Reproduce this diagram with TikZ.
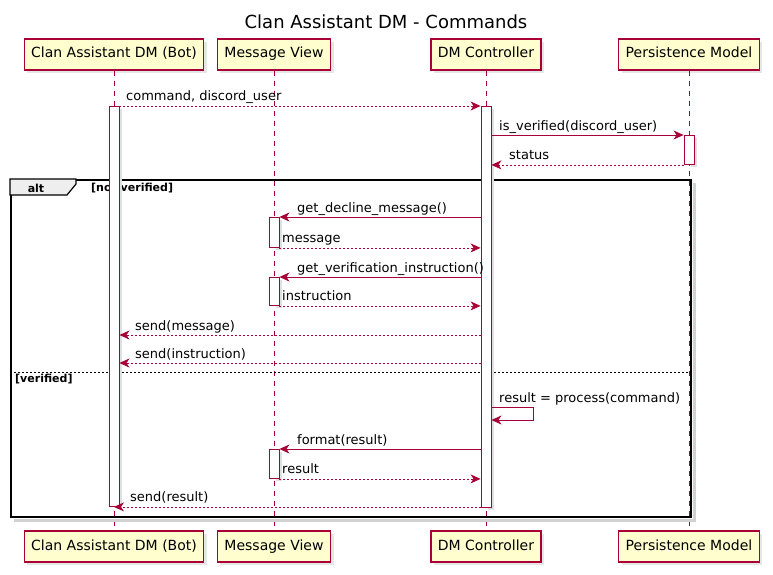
\documentclass[tikz,border=0pt]{standalone}
\usepackage{fontspec}
\setmainfont{DejaVu Sans}
\usetikzlibrary{arrows.meta,shadows}
\definecolor{umlred}{HTML}{A80036}
\definecolor{umlbox}{HTML}{FEFECE}
\definecolor{umltab}{HTML}{EEEEEE}
\begin{document}
\begin{tikzpicture}[x=1pt,y=-1pt,>={Stealth[length=10pt,width=9pt,inset=3pt]},
  part/.style={draw=umlred,fill=umlbox,line width=1.2pt,minimum height=31pt,inner xsep=7pt,
    text height=10pt,text depth=3pt,font=\fontsize{14}{16}\selectfont,
    drop shadow={shadow xshift=3pt,shadow yshift=-3pt,opacity=0.2}},
  life/.style={umlred,dash pattern=on 5pt off 5pt,line width=0.8pt},
  act/.style={draw=umlred,fill=white,line width=0.9pt,minimum width=10pt,inner sep=0pt,anchor=north},
  actshadow/.style={fill=black!12},
  call/.style={umlred,->,line width=0.8pt},
  ret/.style={call,dash pattern=on 2pt off 2pt},
  lbl/.style={anchor=base west,inner sep=0pt,font=\fontsize{13}{15}\selectfont},
  guard/.style={anchor=west,inner sep=0pt,font=\fontsize{11}{13}\selectfont\bfseries}]

  \useasboundingbox (0,0) rectangle (773,575);
  \node[font=\fontsize{18}{22}\selectfont] (title) at (386,22) {Clan Assistant DM - Commands};

  % Participants
  \foreach \name/\x/\txt in {bot/114/Clan Assistant DM (Bot), view/274/Message View,
                             ctrl/486/DM Controller, model/689/Persistence Model} {
    \node[part] (\name) at (\x,54.5) {\txt};
    \node[part] (b\name) at (\x,546.5) {\txt};
    \draw[life] (\name) -- (b\name);
  }

  % alt frame
  \node[draw,line width=1.7pt,minimum width=680pt,minimum height=337pt,inner sep=0pt,
        anchor=north west] (altbox) at (10,179) {};
  \draw[black!18,line width=2.5pt] ([xshift=3pt,yshift=-4pt]altbox.north east)
    -- ([xshift=3pt,yshift=-3pt]altbox.south east) -- ([xshift=4pt,yshift=-3pt]altbox.south west);
  \draw[line width=1.2pt,fill=umltab] (altbox.north west) -- ++(66,0) -- ++(0,5)
    -- ++(-9,11) -- ++(-57,0) -- cycle;
  \node[guard,anchor=center] (alt) at (36,188) {alt};
  \node[guard] (notver) at (91,188) {[not verified]};
  \coordinate (sep) at (0,372);
  \draw[dash pattern=on 2pt off 2pt,line width=0.8pt] (altbox.west |- sep) -- (altbox.east |- sep);
  \node[guard] (ver) at (15,379) {[verified]};

  % Activations
  \foreach \name/\x/\top/\h in {actBot/114/106/400, actCtrl/486/106/401, actModel/689/135/29,
                                actView1/274/217/30, actView2/274/277/28, actView3/274/449/29} {
    \fill[actshadow] (\x+2,\top+3) rectangle ++(6,\h);
    \node[act,minimum height=\h pt] (\name) at (\x,\top) {};
  }

  % Messages
  \draw[ret] (actBot.north east) -- (actCtrl.north west);
  \node[lbl] at (126,101) {command, discord\_user};
  \draw[call] (actCtrl.east |- actModel.north) -- (actModel.north west);
  \node[lbl] at (499,130) {is\_verified(discord\_user)};
  \draw[ret] (actModel.south west) -- (actCtrl.east |- actModel.south);
  \node[lbl] at (509,159) {status};

  \draw[call] (actCtrl.west |- actView1.north) -- (actView1.north east);
  \node[lbl] at (297,212) {get\_decline\_message()};
  \draw[ret] (actView1.south east) -- (actCtrl.west |- actView1.south);
  \node[lbl] at (282,242) {message};
  \draw[call] (actCtrl.west |- actView2.north) -- (actView2.north east);
  \node[lbl] at (297,272) {get\_verification\_instruction()};
  \draw[ret] (actView2.south east) -- (actCtrl.west |- actView2.south);
  \node[lbl] at (282,300) {instruction};

  \coordinate (r1) at (0,335);
  \coordinate (r2) at (0,363);
  \draw[ret] (actCtrl.west |- r1) -- (actBot.east |- r1);
  \node[lbl] at (135,330) {send(message)};
  \draw[ret] (actCtrl.west |- r2) -- (actBot.east |- r2);
  \node[lbl] at (135,358) {send(instruction)};

  \coordinate (r3) at (0,407);
  \coordinate (r4) at (0,420);
  \draw[call] (actCtrl.east |- r3) -- ++(42,0) -- ++(0,13) -- (actCtrl.east |- r4);
  \node[lbl] at (499,402) {result = process(command)};

  \draw[call] (actCtrl.west |- actView3.north) -- (actView3.north east);
  \node[lbl] at (297,444) {format(result)};
  \draw[ret] (actView3.south east) -- (actCtrl.west |- actView3.south);
  \node[lbl] at (282,473) {result};
  \draw[ret] (actCtrl.west |- actBot.south) -- (actBot.south);
  \node[lbl] at (130,501) {send(result)};
\end{tikzpicture}
\end{document}
